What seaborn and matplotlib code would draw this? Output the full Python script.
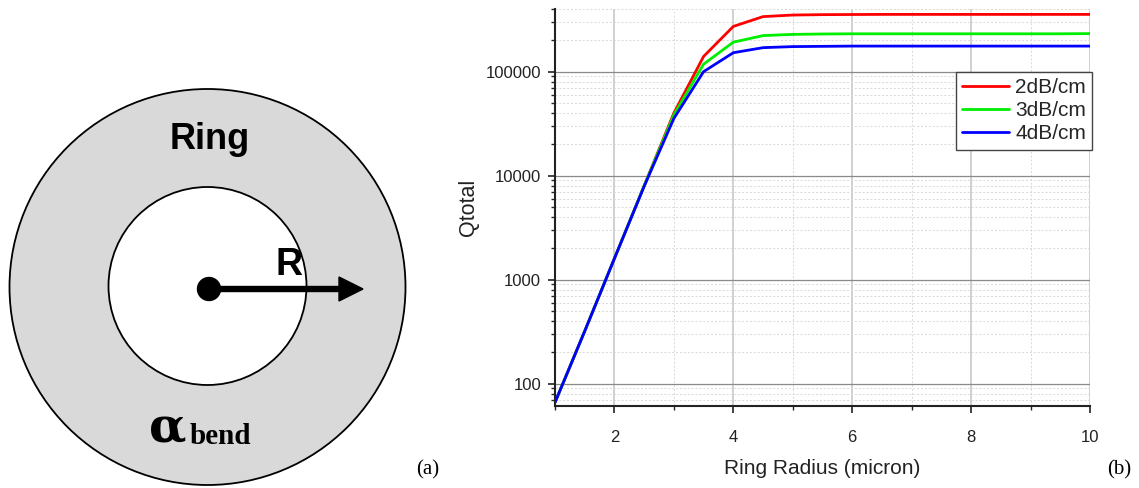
import numpy as np
import pandas as pd
import matplotlib
matplotlib.use("Agg")
import matplotlib.pyplot as plt
import seaborn as sns
from matplotlib.patches import Circle, FancyArrow
from matplotlib.ticker import LogLocator, NullFormatter, FixedLocator

radius = [1, 1.5, 2, 2.5, 3, 3.5, 4, 4.5, 5, 5.5, 6, 6.5, 7, 7.5, 8, 8.5, 9, 9.5, 10]
q_2db = [66, 320, 1600, 8000, 40000, 140000, 272000, 338000, 350000, 353000, 354000,
         355000, 355000, 355000, 355000, 355000, 355000, 355000, 355000]
q_3db = [66, 320, 1600, 8000, 38500, 118000, 192000, 222000, 228000, 230000, 231000,
         231000, 231000, 231000, 231000, 231000, 231000, 231000, 232000]
q_4db = [66, 320, 1600, 7900, 35500, 100000, 152000, 170000, 174000, 175000, 176000,
         176000, 176000, 176000, 176000, 176000, 176000, 176000, 176000]
series_names = ["2dB/cm", "3dB/cm", "4dB/cm"]
colors = ["#ff0000", "#00ee00", "#0000ff"]

df = pd.concat([
    pd.DataFrame({"Ring Radius (micron)": radius, "Qtotal": q, "loss": name})
    for q, name in zip([q_2db, q_3db, q_4db], series_names)
])

sns.set_style("white")
plt.rcParams["font.family"] = ["Liberation Sans", "DejaVu Sans"]

fig = plt.figure(figsize=(11.39, 4.88), dpi=100)

# ---- panel (a): ring diagram ----
axd = fig.add_axes([0, 0, 1, 1])
axd.set_xlim(0, 1139)
axd.set_ylim(488, 0)
axd.axis("off")
axd.add_patch(Circle((207.5, 287), 198, facecolor="#d9d9d9", edgecolor="black", lw=1.3))
axd.add_patch(Circle((207.5, 286), 99, facecolor="white", edgecolor="black", lw=1.3))
axd.add_patch(FancyArrow(209, 289, 154, 0, width=5, head_width=24, head_length=24,
                         length_includes_head=True, color="black"))
axd.add_patch(Circle((209, 289), 11.5, color="black"))
serif = ["Liberation Serif", "DejaVu Serif"]
axd.text(209.5, 149, "Ring", ha="center", va="baseline", fontsize=26,
         fontweight="bold", color="black")
axd.text(288.5, 275, "R", ha="center", va="baseline", fontsize=27,
         fontweight="bold", color="black")
axd.text(149, 443, "α", ha="left", va="baseline", fontsize=35, fontweight="bold",
         color="black", family=["DejaVu Serif"])
axd.text(190, 444, "bend", ha="left", va="baseline", fontsize=21, fontweight="bold",
         color="black", family=serif)
axd.text(428, 470, "(a)", ha="center", va="center", fontsize=15, color="black",
         family=serif)
axd.text(1119, 470, "(b)", ha="center", va="center", fontsize=15, color="black",
         family=serif)

# ---- panel (b): Q vs radius ----
ax = fig.add_axes([555 / 1139, 1 - 406 / 488, 535 / 1139, 397 / 488])
sns.lineplot(data=df, x="Ring Radius (micron)", y="Qtotal", hue="loss",
             palette=colors, lw=2, ax=ax)
ax.set_yscale("log")
ax.set_xlim(1, 10)
ax.set_ylim(61, 400000)
ax.xaxis.set_major_locator(FixedLocator([2, 4, 6, 8, 10]))
ax.xaxis.set_minor_locator(FixedLocator([1, 3, 5, 7, 9]))
ax.yaxis.set_major_locator(FixedLocator([100, 1000, 10000, 100000]))
ax.yaxis.set_minor_locator(LogLocator(base=10, subs=np.arange(2, 10), numticks=20))
ax.yaxis.set_minor_formatter(NullFormatter())
ax.set_yticklabels(["100", "1000", "10000", "100000"])
ax.set_xticklabels(["2", "4", "6", "8", "10"])
ax.tick_params(axis="both", which="major", direction="out", length=5, width=1.2,
               labelsize=12, colors="#222222", left=True, bottom=True)
ax.tick_params(axis="x", which="major", pad=12)
ax.tick_params(axis="y", which="major", pad=5)
ax.tick_params(axis="both", which="minor", direction="out", length=3, width=1,
               left=True, bottom=True)
ax.grid(True, which="major", axis="x", color="#c8c8c8", lw=1.2)
ax.grid(True, which="major", axis="y", color="#8a8a8a", lw=0.9)
ax.grid(True, which="minor", color="#d8d8d8", lw=0.7, ls=(0, (2, 2)))
for s in ["top", "right"]:
    ax.spines[s].set_visible(False)
for s in ["left", "bottom"]:
    ax.spines[s].set_color("#222222")
    ax.spines[s].set_linewidth(1.5)
ax.set_xlabel("Ring Radius (micron)", fontsize=15, color="#222222", labelpad=10)
ax.set_ylabel("Qtotal", fontsize=15.5, color="#222222", labelpad=5)

leg = ax.legend(loc="upper right", bbox_to_anchor=(1.004, 0.842), fontsize=15,
                frameon=True, fancybox=False, edgecolor="#444444", framealpha=1,
                handlelength=2.25, borderpad=0.3, labelspacing=0.2, handletextpad=0.3,
                borderaxespad=0)
leg.get_frame().set_linewidth(1.0)
for h in leg.get_lines():
    h.set_linewidth(2)

fig.savefig("out.png", dpi=100)
